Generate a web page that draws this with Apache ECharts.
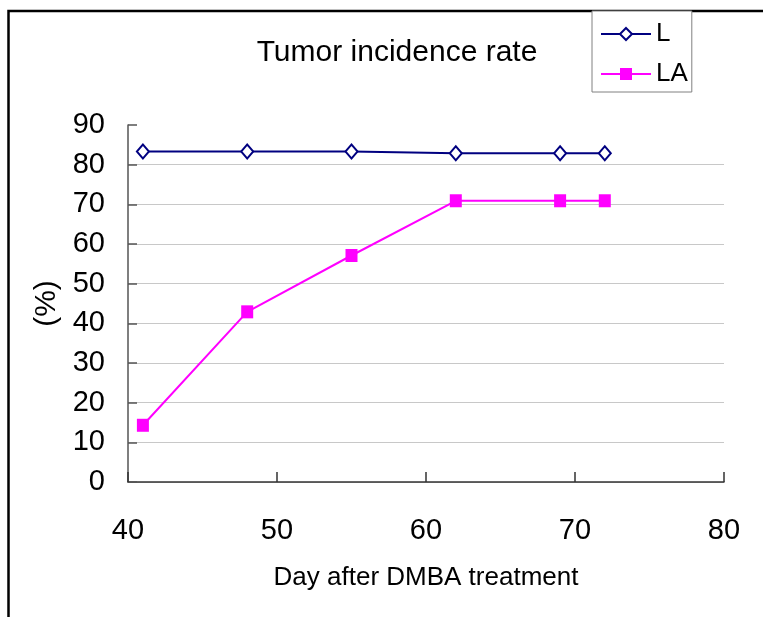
<!DOCTYPE html>
<html>
<head>
<meta charset="utf-8">
<script src="https://cdn.jsdelivr.net/npm/echarts@6/dist/echarts.min.js"></script>
<style>
  html, body { margin: 0; padding: 0; background: #fff; }
  #chart { width: 763px; height: 617px; }
</style>
</head>
<body>
<div id="chart"></div>
<script>
// Days after DMBA treatment and tumor incidence (%) for each group
const days = [41, 48, 55, 62, 69, 72];
const seriesL = [83.3, 83.3, 83.3, 82.9, 82.9, 82.9];
const seriesLA = [14.3, 42.9, 57.1, 70.9, 70.9, 70.9];
const xTicks = { min: 40, max: 80, step: 10 };
const yTicks = { min: 0, max: 90, step: 10 };

const pairs = (xs, ys) => xs.map((x, i) => [x, ys[i]]);

const chart = echarts.init(document.getElementById('chart'), null, { renderer: 'canvas' });

const font = 'Liberation Sans';

chart.setOption({
  animation: false,
  backgroundColor: '#ffffff',
  title: {
    text: 'Tumor incidence rate',
    left: 392,
    top: 33,
    textAlign: 'center',
    textStyle: { fontFamily: font, fontSize: 30, fontWeight: 'normal', color: '#000' }
  },
  legend: {
    orient: 'vertical',
    left: 592,
    top: 11,
    padding: [6, 4, 1, 8],
    itemGap: 6,
    itemWidth: 50,
    itemHeight: 15,
    backgroundColor: '#fff',
    borderColor: '#808080',
    borderWidth: 1,
    textStyle: { fontFamily: font, fontSize: 26, color: '#000', lineHeight: 34 },
    data: ['L', 'LA']
  },
  grid: { left: 128, right: 39, top: 125, bottom: 135, containLabel: false },
  xAxis: {
    type: 'value',
    min: xTicks.min,
    max: xTicks.max,
    interval: xTicks.step,
    name: 'Day after DMBA treatment',
    nameLocation: 'middle',
    nameGap: 83,
    nameTextStyle: { fontFamily: font, fontSize: 26, color: '#000' },
    axisLine: { show: true, lineStyle: { color: '#333', width: 1.5 } },
    axisTick: { show: true, inside: true, length: 10, lineStyle: { color: '#333', width: 1.5 } },
    axisLabel: { margin: 34, fontFamily: font, fontSize: 29, color: '#000' },
    splitLine: { show: false }
  },
  yAxis: {
    type: 'value',
    min: yTicks.min,
    max: yTicks.max,
    interval: yTicks.step,
    name: '(%)',
    nameLocation: 'middle',
    nameGap: 64,
    nameTextStyle: { fontFamily: font, fontSize: 30, color: '#000' },
    axisLine: { show: true, lineStyle: { color: '#555', width: 1.5 } },
    axisTick: { show: true, inside: true, length: 9, lineStyle: { color: '#555', width: 1.5 } },
    axisLabel: { margin: 23, fontFamily: font, fontSize: 29, color: '#000' },
    splitLine: { show: true, showMaxLine: false, lineStyle: { color: '#c8c8c8', width: 1 } }
  },
  series: [
    {
      name: 'L',
      type: 'line',
      data: pairs(days, seriesL),
      symbol: 'diamond',
      symbolSize: [12, 14],
      lineStyle: { color: '#000080', width: 2 },
      itemStyle: { color: '#ffffff', borderColor: '#000080', borderWidth: 2 },
      z: 3
    },
    {
      name: 'LA',
      type: 'line',
      data: pairs(days, seriesLA),
      symbol: 'rect',
      symbolSize: [12, 13],
      lineStyle: { color: '#ff00ff', width: 2 },
      itemStyle: { color: '#ff00ff', borderWidth: 0 },
      z: 2
    }
  ],
  graphic: [
    {
      type: 'rect',
      silent: true,
      z: -1,
      shape: { x: 8.5, y: 11, width: 820, height: 700 },
      style: { fill: null, stroke: '#000', lineWidth: 2.5 }
    }
  ]
});
</script>
</body>
</html>
